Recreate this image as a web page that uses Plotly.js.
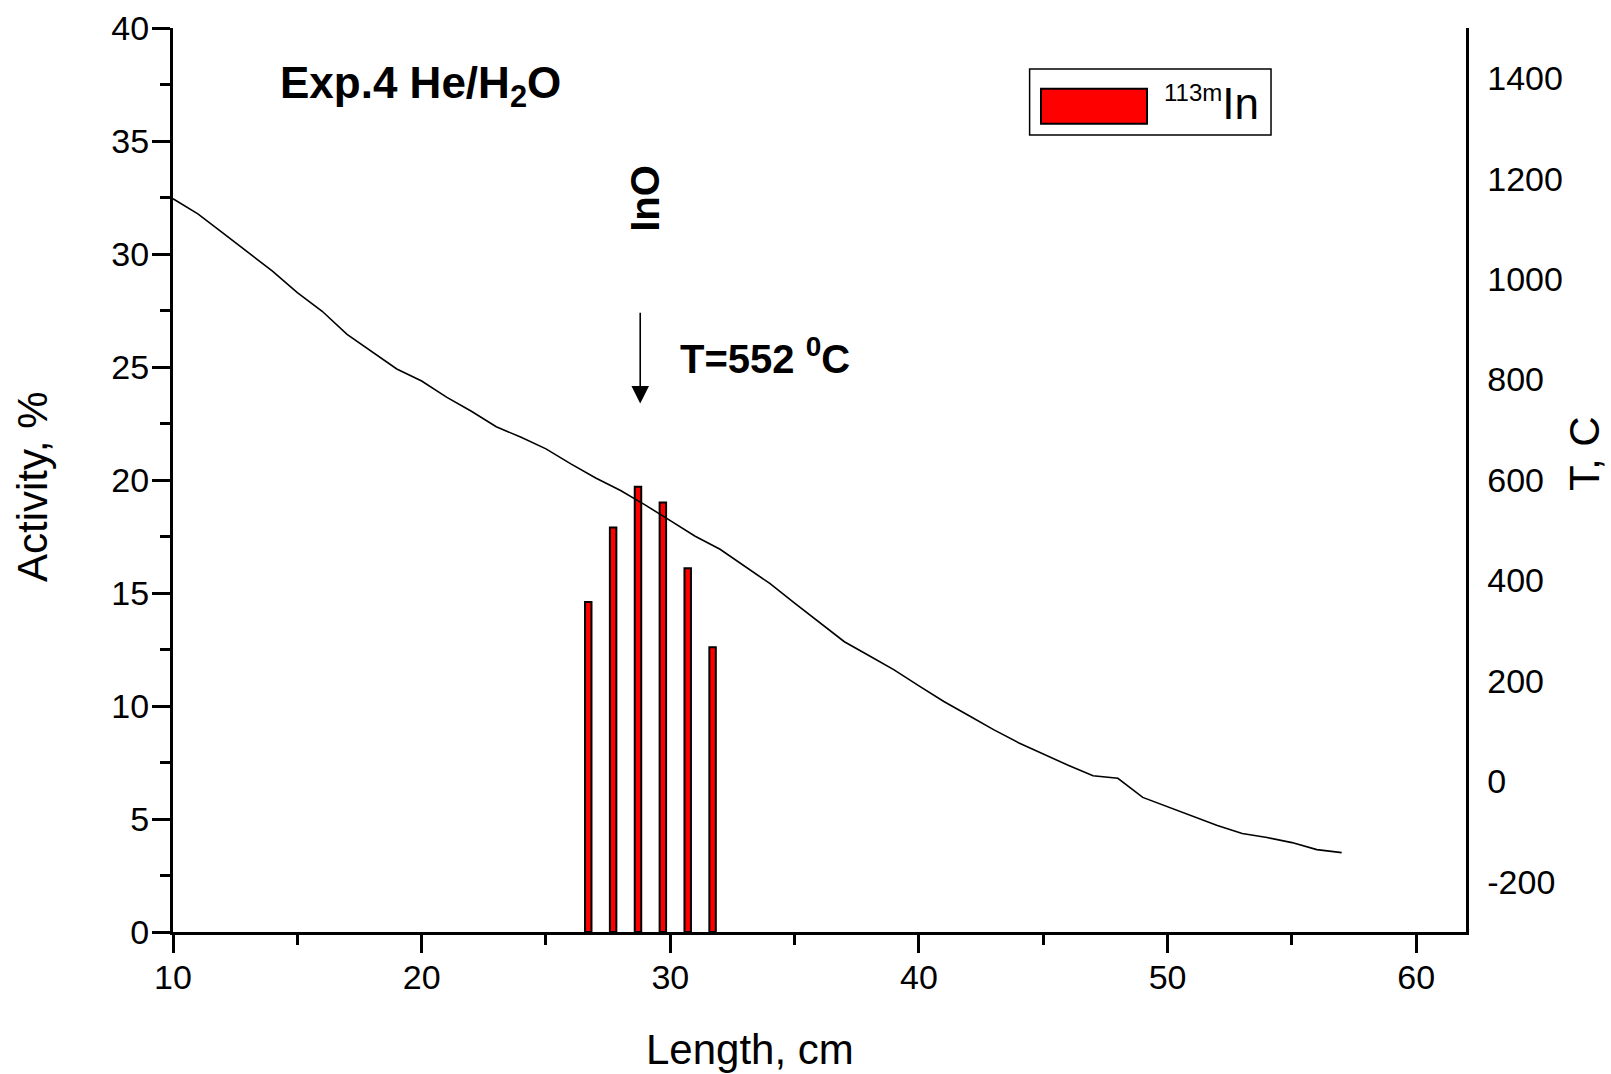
<!DOCTYPE html>
<html>
<head>
<meta charset="utf-8">
<script src="https://cdn.plot.ly/plotly-3.0.1.min.js"></script>
<style>
  html, body { margin: 0; padding: 0; background: #ffffff; }
  #chart { width: 1611px; height: 1074px; }
</style>
</head>
<body>
<div id="chart"></div>
<script>
// 113mIn deposition along the column (bars, left axis)
const lengthCm = [26.7, 27.7, 28.7, 29.7, 30.7, 31.7];
const activity = [14.6, 17.9, 19.7, 19.0, 16.1, 12.6];

// Temperature profile along the column (line, right axis)
const tempLength = [10, 11, 12, 13, 14, 15, 16, 17, 18, 19, 20, 21, 22, 23, 24, 25,
                    26, 27, 28, 29, 30, 31, 32, 33, 34, 35, 36, 37, 38, 39, 40, 41,
                    42, 43, 44, 45, 46, 47, 48, 49, 50, 51, 52, 53, 54, 55, 56, 57];
const tempC = [1160, 1130, 1092, 1054, 1016, 973, 936, 890, 855, 821, 797, 765, 737, 706, 685, 662,
               632, 604, 579, 550, 519, 488, 462, 428, 394, 355, 316, 278, 250, 222, 190, 159,
               131, 103, 77, 54, 32, 11, 6, -32, -51, -70, -88, -104, -112, -122, -136, -142];

// Axis tick settings
const xTicks = [10, 20, 30, 40, 50, 60];
const yTicks = [0, 5, 10, 15, 20, 25, 30, 35, 40];
const y2Ticks = [-200, 0, 200, 400, 600, 800, 1000, 1200, 1400];

const FONT = 'Liberation Sans, Arial, Helvetica, sans-serif';
const TICK_SIZE = 34;

const bars = {
  type: 'bar',
  x: lengthCm,
  y: activity,
  width: lengthCm.map(() => 0.26),
  marker: { color: '#ff0000', line: { color: '#000000', width: 2 } },
  name: '113mIn',
  xaxis: 'x',
  yaxis: 'y',
  hoverinfo: 'x+y'
};

const temperature = {
  type: 'scatter',
  mode: 'lines',
  x: tempLength,
  y: tempC,
  line: { color: '#000000', width: 1.6 },
  name: 'T',
  xaxis: 'x',
  yaxis: 'y2'
};

const layout = {
  width: 1611,
  height: 1074,
  paper_bgcolor: '#ffffff',
  plot_bgcolor: '#ffffff',
  showlegend: false,
  margin: { l: 173, r: 145, t: 28, b: 142, pad: 0 },
  font: { family: FONT, color: '#000000', size: 32 },
  bargap: 0,
  xaxis: {
    range: [10, 62],
    showline: true, linecolor: '#000000', linewidth: 3,
    showgrid: false, zeroline: false,
    ticks: 'outside', ticklen: 18, tickwidth: 3, tickcolor: '#000000',
    ticklabelstandoff: -5,
    tickmode: 'array', tickvals: xTicks, ticktext: xTicks.map(String),
    tickfont: { family: FONT, size: TICK_SIZE, color: '#000000' },
    minor: { ticks: 'outside', ticklen: 10, tickwidth: 3, tickcolor: '#000000', dtick: 5, tick0: 10, showgrid: false },
    fixedrange: true
  },
  yaxis: {
    range: [0, 40],
    showline: true, linecolor: '#000000', linewidth: 3,
    showgrid: false, zeroline: false,
    ticks: 'outside', ticklen: 18, tickwidth: 3, tickcolor: '#000000',
    ticklabelstandoff: -4,
    tickmode: 'array', tickvals: yTicks, ticktext: yTicks.map(String),
    tickfont: { family: FONT, size: TICK_SIZE, color: '#000000' },
    minor: { ticks: 'outside', ticklen: 10, tickwidth: 3, tickcolor: '#000000', dtick: 2.5, tick0: 0, showgrid: false },
    fixedrange: true
  },
  yaxis2: {
    range: [-300, 1500],
    overlaying: 'y', side: 'right', anchor: 'x',
    showline: true, linecolor: '#000000', linewidth: 2.5,
    showgrid: false, zeroline: false,
    ticks: '', ticklabelstandoff: 12,
    tickmode: 'array', tickvals: y2Ticks, ticktext: y2Ticks.map(String),
    tickfont: { family: FONT, size: TICK_SIZE, color: '#000000' },
    fixedrange: true
  },
  shapes: [
    // legend frame
    { type: 'rect', xref: 'paper', yref: 'paper', x0: 0.6625, x1: 0.8492, y0: 0.8817, y1: 0.9547,
      line: { color: '#000000', width: 1.5 }, fillcolor: '#ffffff' },
    // legend swatch
    { type: 'rect', xref: 'paper', yref: 'paper', x0: 0.6713, x1: 0.7533, y0: 0.8942, y1: 0.9329,
      line: { color: '#000000', width: 2 }, fillcolor: '#ff0000' }
  ],
  annotations: [
    { text: '<sup><span style="font-size:24px">113m</span></sup>In', xref: 'paper', yref: 'paper', x: 0.7649, y: 0.917,
      xanchor: 'left', yanchor: 'middle', showarrow: false,
      font: { family: FONT, size: 44, color: '#000000' } },
    { text: '<b>Exp.4 He/H<sub>2</sub>O</b>', xref: 'x', yref: 'y', x: 14.24, y: 37.45,
      xanchor: 'left', yanchor: 'middle', showarrow: false,
      font: { family: FONT, size: 44, color: '#000000' } },
    { text: '<b>InO</b>', xref: 'x', yref: 'y', x: 28.95, y: 32.45, textangle: -90,
      xanchor: 'center', yanchor: 'middle', showarrow: false,
      font: { family: FONT, size: 40, color: '#000000' } },
    { text: '<b>T=552 <sup>0</sup>C</b>', xref: 'x', yref: 'y', x: 30.31, y: 25.5,
      xanchor: 'left', yanchor: 'middle', showarrow: false,
      font: { family: FONT, size: 40, color: '#000000' } },
    // arrow marking the deposition temperature
    { text: '', xref: 'x', yref: 'y', x: 28.79, y: 23.38,
      axref: 'x', ayref: 'y', ax: 28.79, ay: 27.47,
      showarrow: true, arrowhead: 2, arrowsize: 2.2, arrowwidth: 1.6, arrowcolor: '#000000' },
    // axis titles
    { text: 'Activity, %', xref: 'paper', yref: 'paper', x: -0.1087, y: 0.4927, textangle: -90,
      xanchor: 'center', yanchor: 'middle', showarrow: false,
      font: { family: FONT, size: 42, color: '#000000' } },
    { text: 'Length, cm', xref: 'paper', yref: 'paper', x: 0.4465, y: -0.130,
      xanchor: 'center', yanchor: 'middle', showarrow: false,
      font: { family: FONT, size: 42, color: '#000000' } },
    { text: 'T, C', xref: 'paper', yref: 'paper', x: 1.0915, y: 0.529, textangle: -90,
      xanchor: 'center', yanchor: 'middle', showarrow: false,
      font: { family: FONT, size: 42, color: '#000000' } }
  ]
};

Plotly.newPlot('chart', [bars, temperature], layout, { displayModeBar: false, staticPlot: true });
</script>
</body>
</html>
